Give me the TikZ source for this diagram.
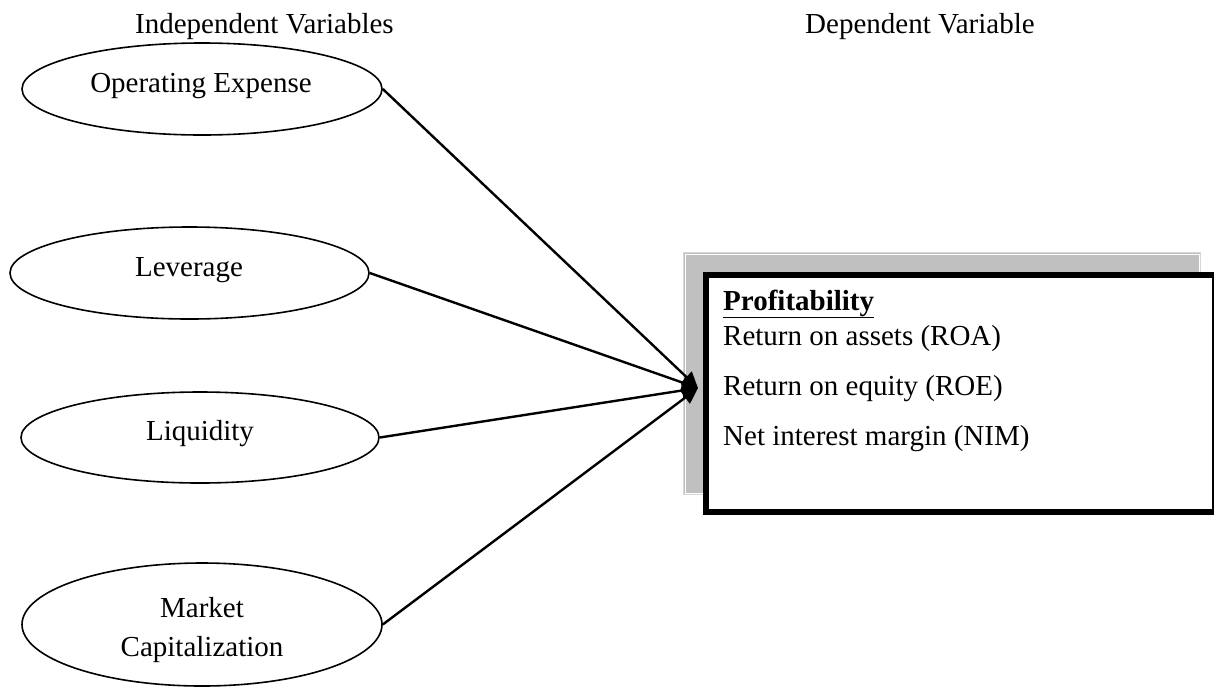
\documentclass[tikz,border=0pt]{standalone}
\usepackage{fontspec}
\setmainfont{Liberation Serif}
\usetikzlibrary{shapes.geometric,arrows.meta}
\definecolor{shadowgray}{RGB}{192,192,192}
\definecolor{rimgray}{RGB}{215,215,215}
\begin{document}
\begin{tikzpicture}[x=1pt,y=-1pt,
  var/.style={draw,ellipse,line width=1.6pt,inner sep=0pt},
  txt/.style={font=\fontsize{29}{29}\selectfont,inner sep=0pt,anchor=base},
  htxt/.style={font=\fontsize{29}{29}\selectfont,inner sep=0pt,anchor=base west},
  btxt/.style={font=\fontsize{29}{29}\selectfont,inner sep=0pt,anchor=base west},
  link/.style={line width=2.4pt,-{Triangle[length=16pt,width=15pt]}}]
\useasboundingbox (0,0) rectangle (1214,686);
% headers
\node[htxt] (hind) at (135,33) {Independent Variables};
\node[htxt] (hdep) at (805,33) {Dependent Variable};
% ellipses
\node[var,minimum width=360pt,minimum height=92pt] (oe) at (202,89) {};
\node[var,minimum width=359pt,minimum height=92pt] (lev) at (189.5,273) {};
\node[var,minimum width=358pt,minimum height=91pt] (liq) at (200,437.5) {};
\node[var,minimum width=360pt,minimum height=123pt] (mc) at (202,624.5) {};
\node[txt] (oet) at (201,92) {Operating Expense};
\node[txt] (levt) at (189,276) {Leverage};
\node[txt] (liqt) at (200,440) {Liquidity};
\node[txt] (mct1) at (202,617) {Market};
\node[txt] (mct2) at (202,656) {Capitalization};
% dependent box
\node[draw=rimgray,fill=shadowgray,line width=1.2pt,rectangle,inner sep=0pt,
      minimum width=517pt,minimum height=242pt,anchor=north west] (shadow) at (683,252) {};
\draw[white,line width=0.8pt] ([xshift=2pt,yshift=-2pt]shadow.north west) rectangle ([xshift=-2pt,yshift=2pt]shadow.south east);
\node[draw=black,fill=white,line width=6pt,rectangle,inner sep=0pt,
      minimum width=508.5pt,minimum height=237.5pt,anchor=north west] (box) at (703,271.5) {};
\node[btxt] (prof) at (723,310) {\textbf{\underline{Profitability}}};
\node[btxt] (roa) at (723,345) {Return on assets (ROA)};
\node[btxt] (roe) at (723,395) {Return on equity (ROE)};
\node[btxt] (nim) at (723,445) {Net interest margin (NIM)};
% connectors
\coordinate (tip) at (698,388);
\draw[link] (oe.east) -- (tip);
\draw[link] (lev.east) -- (tip);
\draw[link] (liq.east) -- (tip);
\draw[link] (mc.east) -- (tip);
\end{tikzpicture}
\end{document}
